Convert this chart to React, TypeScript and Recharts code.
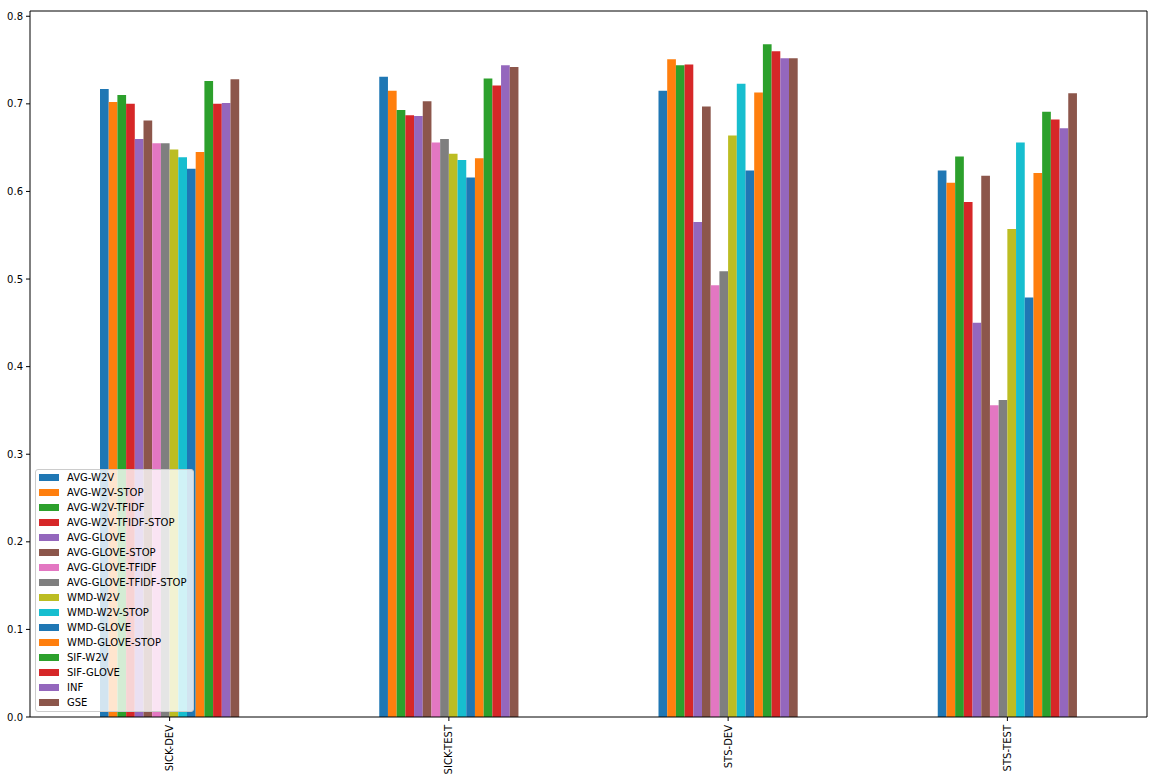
import { Bar, BarChart, Legend, XAxis, YAxis } from "recharts";

const categories = ["SICK-DEV", "SICK-TEST", "STS-DEV", "STS-TEST"];

const seriesNames = [
  "AVG-W2V",
  "AVG-W2V-STOP",
  "AVG-W2V-TFIDF",
  "AVG-W2V-TFIDF-STOP",
  "AVG-GLOVE",
  "AVG-GLOVE-STOP",
  "AVG-GLOVE-TFIDF",
  "AVG-GLOVE-TFIDF-STOP",
  "WMD-W2V",
  "WMD-W2V-STOP",
  "WMD-GLOVE",
  "WMD-GLOVE-STOP",
  "SIF-W2V",
  "SIF-GLOVE",
  "INF",
  "GSE",
];

// one value per series, in the order of seriesNames
const sickDev = [0.717, 0.702, 0.71, 0.7, 0.66, 0.681, 0.655, 0.655, 0.648, 0.639, 0.626, 0.645, 0.726, 0.7, 0.701, 0.728];
const sickTest = [0.731, 0.715, 0.693, 0.687, 0.686, 0.703, 0.656, 0.66, 0.643, 0.636, 0.616, 0.638, 0.729, 0.721, 0.744, 0.742];
const stsDev = [0.715, 0.751, 0.744, 0.745, 0.565, 0.697, 0.493, 0.509, 0.664, 0.723, 0.624, 0.713, 0.768, 0.76, 0.752, 0.752];
const stsTest = [0.624, 0.61, 0.64, 0.588, 0.45, 0.618, 0.356, 0.362, 0.557, 0.656, 0.479, 0.621, 0.691, 0.682, 0.672, 0.712];

const yTicks = [0, 0.1, 0.2, 0.3, 0.4, 0.5, 0.6, 0.7, 0.8];

const palette = ["#1f77b4", "#ff7f0e", "#2ca02c", "#d62728", "#9467bd", "#8c564b", "#e377c2", "#7f7f7f", "#bcbd22", "#17becf"];

const valuesByCategory = [sickDev, sickTest, stsDev, stsTest];
const data = categories.map((name, i) => {
  const row: Record<string, string | number> = { name };
  seriesNames.forEach((s, j) => {
    row[s] = valuesByCategory[i][j];
  });
  return row;
});

const font = "'DejaVu Sans', sans-serif";

function RotatedTick(props: any) {
  const { x, y, payload } = props;
  return (
    <g transform={`translate(${x},${y})`}>
      <text
        transform="rotate(-90)"
        x={-2}
        dy="0.35em"
        textAnchor="end"
        fontSize={10}
        fontFamily={font}
        fill="#000"
      >
        {payload.value}
      </text>
    </g>
  );
}

function LegendBox() {
  return (
    <div
      style={{
        background: "rgba(255,255,255,0.8)",
        border: "1px solid #ccc",
        borderRadius: 3,
        padding: "0 6px 1px 3px",
        fontFamily: font,
        fontSize: 10,
        color: "#000",
      }}
    >
      {seriesNames.map((s, i) => (
        <div key={s} style={{ display: "flex", alignItems: "center", height: 15, whiteSpace: "nowrap" }}>
          <span style={{ width: 20, height: 7, background: palette[i % 10], marginRight: 8, display: "inline-block" }} />
          {s}
        </div>
      ))}
    </div>
  );
}

export default function App() {
  return (
    <div style={{ position: "absolute", left: 0, top: 0, background: "#fff" }}>
      <BarChart
        width={1156}
        height={782}
        data={data}
        margin={{ top: 10, right: 8, left: 0, bottom: 0 }}
        barGap={0}
        barSize={8.7}
      >
        <XAxis
          dataKey="name"
          interval={0}
          height={65}
          tick={<RotatedTick />}
          tickSize={4}
          tickMargin={2}
          axisLine={{ stroke: "#000" }}
          tickLine={{ stroke: "#000" }}
        />
        <XAxis xAxisId="top" orientation="top" dataKey="name" height={1} tick={false} tickLine={false} axisLine={{ stroke: "#000" }} />
        <YAxis
          width={30}
          domain={[0, 0.806]}
          ticks={yTicks}
          tickFormatter={(v: number) => v.toFixed(1)}
          tick={{ fontSize: 10, fontFamily: font, fill: "#000" }}
          tickSize={4}
          tickMargin={3}
          axisLine={{ stroke: "#000" }}
          tickLine={{ stroke: "#000" }}
          allowDataOverflow
        />
        <YAxis yAxisId="right" orientation="right" width={1} domain={[0, 0.806]} tick={false} tickLine={false} axisLine={{ stroke: "#000" }} />
        {seriesNames.map((s, i) => (
          <Bar key={s} dataKey={s} fill={palette[i % 10]} isAnimationActive={false} />
        ))}
        <Legend
          layout="vertical"
          align="center"
          verticalAlign="middle"
          content={<LegendBox />}
          wrapperStyle={{ left: 35, top: 469, width: "auto", height: "auto" }}
        />
      </BarChart>
    </div>
  );
}
